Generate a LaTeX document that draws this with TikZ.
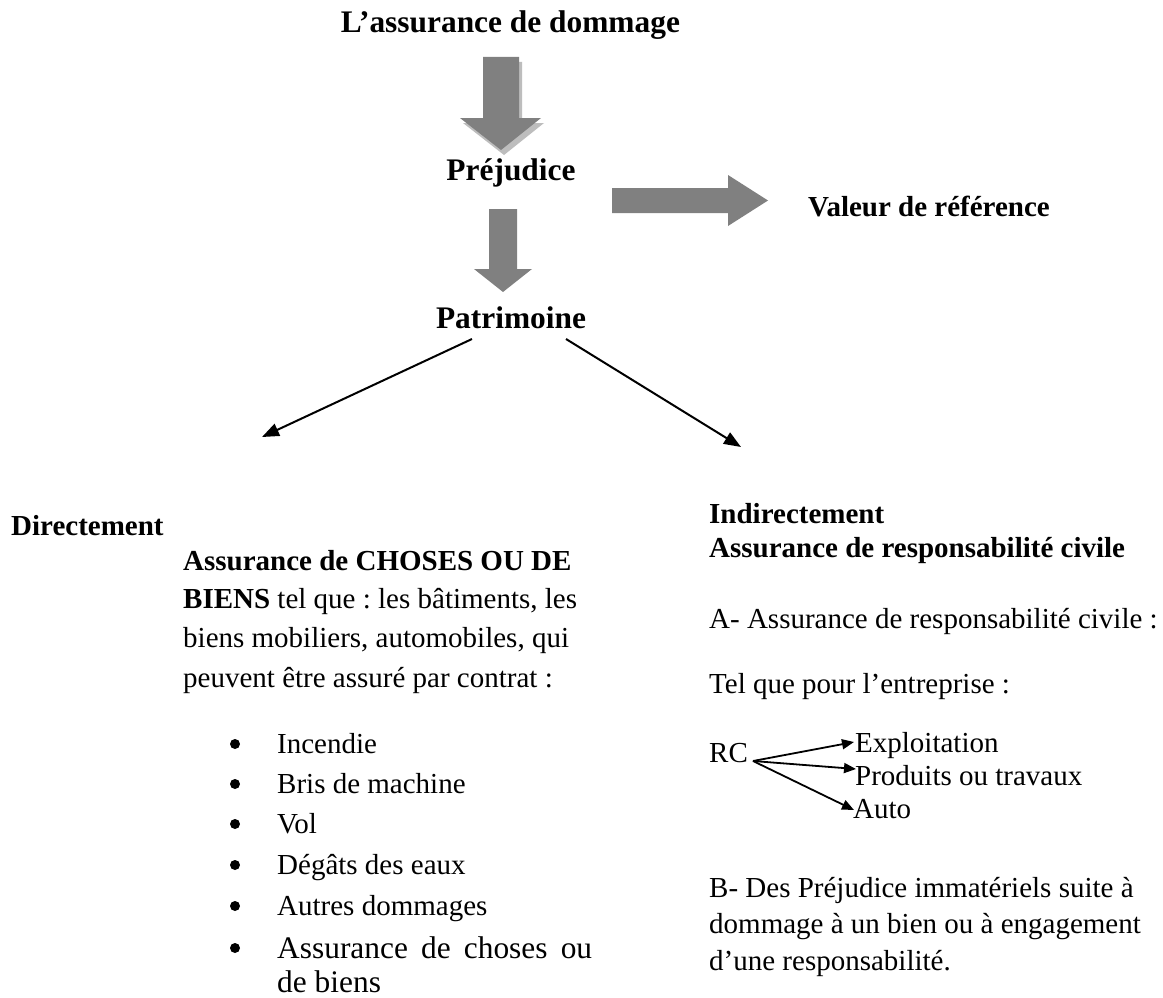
\documentclass[tikz,border=0pt]{standalone}
\usepackage{fontspec}
\setmainfont{Liberation Serif}
\usetikzlibrary{arrows.meta}
\definecolor{arrowgray}{HTML}{808080}
\definecolor{shadowgray}{HTML}{BDBDBD}
\newcommand\bodyfont{\fontsize{29}{36}\selectfont\frenchspacing}
\newcommand\bigfont{\fontsize{31.4}{38}\selectfont\frenchspacing}
\begin{document}
\begin{tikzpicture}[x=1pt,y=-1pt,
  txt/.style={inner sep=0pt, anchor=base west, font=\bodyfont},
  btxt/.style={txt, font=\bodyfont\bfseries},
  bigtxt/.style={txt, font=\bigfont},
  head/.style={inner sep=0pt, anchor=base, font=\bigfont\bfseries},
  bul/.style={circle, fill=black, inner sep=0pt, minimum size=10pt},
  link/.style={line width=2pt, -{Triangle[length=17pt,width=13pt]}},
  rclink/.style={line width=1.8pt, -{Triangle[length=12pt,width=10pt]}}]
\useasboundingbox (0,0) rectangle (1163,998);
\fill[white] (0,0) rectangle (1163,998);

% title and first block arrow (with shadow)
\node[head] (title) at (510.5,33) {L’assurance de dommage};
\fill[shadowgray, shift={(3,5)}] (483,57) -- (519,57) -- (519,118) -- (541,118) -- (501,150) -- (460,118) -- (483,118) -- cycle;
\fill[arrowgray] (483,57) -- (519,57) -- (519,118) -- (541,118) -- (501,150) -- (460,118) -- (483,118) -- cycle;

\node[head] (prej) at (511,180) {Préjudice};

% right block arrow
\fill[arrowgray] (612,188) -- (728,188) -- (728,175) -- (768,200.5) -- (728,226) -- (728,213) -- (612,213) -- cycle;
\node[btxt] (valeur) at (808,216) {Valeur de référence};

% second block arrow
\fill[arrowgray] (489,209) -- (517,209) -- (517,269) -- (532,269) -- (503,292) -- (474,269) -- (489,269) -- cycle;

\node[head] (patri) at (511,328) {Patrimoine};

% diagonal arrows
\coordinate (lstart) at (472,339);
\coordinate (lend) at (262,437);
\coordinate (rstart) at (566,339);
\coordinate (rend) at (741,447);
\draw[link] (lstart) -- (lend);
\draw[link] (rstart) -- (rend);

% left column
\node[btxt] (direct) at (11,535) {Directement};
\node[btxt] (choses1) at (183,570) {Assurance de CHOSES OU DE};
\node[txt] (choses2) at (183,608) {\textbf{BIENS} tel que : les bâtiments, les};
\node[txt] (choses3) at (183,647) {biens mobiliers, automobiles, qui};
\node[txt] (choses4) at (183,687) {peuvent être assuré par contrat :};

\node[bul] (b1) at (235,744) {};
\node[txt] (i1) at (277,753) {Incendie};
\node[bul] (b2) at (235,784) {};
\node[txt] (i2) at (277,793) {Bris de machine};
\node[bul] (b3) at (235,824) {};
\node[txt] (i3) at (277,833) {Vol};
\node[bul] (b4) at (235,865) {};
\node[txt] (i4) at (277,874) {Dégâts des eaux};
\node[bul] (b5) at (235,906) {};
\node[txt] (i5) at (277,915) {Autres dommages};
\node[bul] (b6) at (235,948) {};
\node[bigtxt] (i6) at (277,958) {\makebox[315pt][s]{Assurance de choses ou}};
\node[bigtxt] (i6b) at (277,992) {de biens};

% right column
\node[btxt] (indir) at (709,523) {Indirectement};
\node[btxt] (rcivile) at (709,557) {Assurance de responsabilité civile};
\node[txt] (pa) at (709,628) {A- Assurance de responsabilité civile :};
\node[txt] (telque) at (709,693) {Tel que pour l’entreprise :};
\node[txt] (rc) at (709,762) {RC};
\node[txt] (exploit) at (855,752) {Exploitation};
\node[txt] (produits) at (855,785) {Produits ou travaux};
\node[txt] (auto) at (853,818) {Auto};
\coordinate (rcfork) at (753,761);
\coordinate (texploit) at (854,742);
\coordinate (tprod) at (856,769);
\coordinate (tauto) at (854,810);
\draw[rclink] (rcfork) -- (texploit);
\draw[rclink] (rcfork) -- (tprod);
\draw[rclink] (rcfork) -- (tauto);

\node[txt] (pb1) at (709,897) {B- Des Préjudice immatériels suite à};
\node[txt] (pb2) at (709,933) {dommage à un bien ou à engagement};
\node[txt] (pb3) at (709,970) {d’une responsabilité.};
\end{tikzpicture}
\end{document}
